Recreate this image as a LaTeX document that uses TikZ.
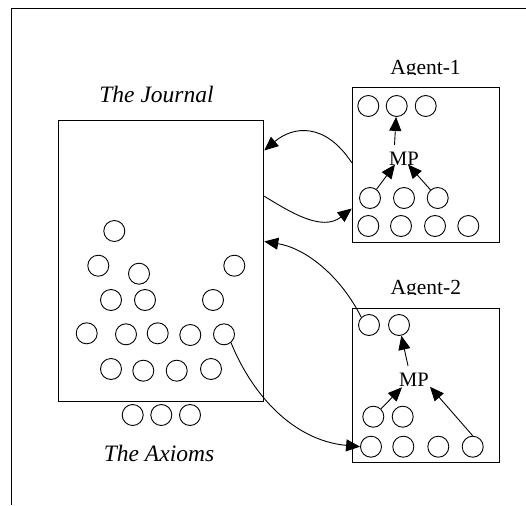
\documentclass[tikz,border=0pt]{standalone}
\usepackage{fontspec}
\setmainfont{Liberation Serif}
\usetikzlibrary{arrows.meta,calc}
\begin{document}
\begin{tikzpicture}[x=1pt,y=-1pt,
  dot/.style={circle,draw,line width=0.9pt,minimum size=21pt,inner sep=0pt},
  panel/.style={draw,line width=1.1pt,inner sep=0pt},
  arr/.style={line width=0.9pt,-{Triangle[length=14pt,width=12pt]}},
  lbl/.style={font=\fontsize{23.5}{26}\selectfont\itshape,anchor=base,inner sep=0pt},
  agentlbl/.style={font=\fontsize{21.5}{24}\selectfont,anchor=base,inner sep=0pt},
  mp/.style={font=\fontsize{20.5}{23}\selectfont,inner sep=0pt}]
\useasboundingbox (0,0) rectangle (526,505);

% page frame
\draw[line width=1.1pt] (11.7,505) -- (11.7,8.5) -- (526,8.5);

% boxes
\node[panel,minimum width=205pt,minimum height=280.7pt] (journal) at (161.2,260.7) {};
\node[panel,minimum width=147.4pt,minimum height=154.3pt] (agent1) at (426,164.9) {};
\node[panel,minimum width=147.4pt,minimum height=154pt] (agent2) at (426,385.3) {};

% titles
\node[lbl] (jlabel) at (156.5,103) {The Journal};
\node[lbl] (xlabel) at (159,461.5) {The Axioms};
\begin{scope}
  \clip (360,40) rectangle (490,75);
  \node[agentlbl] (a1label) at (425.5,74.3) {Agent-1};
\end{scope}
\begin{scope}
  \clip (360,260) rectangle (490,294.8);
  \node[agentlbl] (a2label) at (425.8,294) {Agent-2};
\end{scope}

% formulas in the journal
\foreach \n/\p in {j1/{(114.3,231)},j2/{(98.3,265.7)},j3/{(139,273.7)},j4/{(234.3,265.7)},
  j5/{(111,300)},j6/{(145,300)},j7/{(213,300)},
  j8/{(86.7,333.3)},j9/{(126,334.3)},j10/{(157.7,333.3)},j11/{(190.3,335)},j12/{(224,334.3)},
  j13/{(111,369)},j14/{(143.3,370.7)},j15/{(176.7,370.7)},j16/{(211,369)},
  x1/{(132.7,415)},x2/{(161.3,415)},x3/{(190,415)}}
  \node[dot] (\n) at \p {};

% agent 1
\foreach \n/\p in {a1t1/{(368.3,106)},a1t2/{(396.7,106)},a1t3/{(425.7,106)},
  a1m1/{(370,198)},a1m2/{(404,198)},a1m3/{(437.7,198)},
  a1b1/{(368.3,226)},a1b2/{(401,226)},a1b3/{(435,226)},a1b4/{(468.3,226)}}
  \node[dot] (\n) at \p {};
\node[mp] (mp1) at (404,158.5) {MP};
\draw[arr] ($(mp1)+(-9.5,-13.5)$) -- (a1t2);
\draw[arr] (a1m1) -- ($(mp1)+(-9,6)$);
\draw[arr] (a1m3) -- ($(mp1)+(4,6)$);

% agent 2
\foreach \n/\p in {a2t1/{(369,325)},a2t2/{(399,325)},
  a2m1/{(373.3,416.7)},a2m2/{(402.7,416.7)},
  a2b1/{(371,446.7)},a2b2/{(403.3,446.7)},a2b3/{(438.3,446.7)},a2b4/{(472.7,446.7)}}
  \node[dot] (\n) at \p {};
\node[mp] (mp2) at (414,379.3) {MP};
\draw[arr] ($(mp2)+(-6,-13.5)$) -- (a2t2);
\draw[arr] (a2m1) -- ($(mp2)+(-12,8)$);
\draw[arr] (a2b4.north) -- ($(mp2)+(16,7.5)$);

% exchanges between the journal and the agents
\draw[arr] ($(agent1.north west)+(0,75.5)$) .. controls (325,122) and (293,126) .. ($(journal.north east)+(0,30.7)$);
\draw[arr] ($(journal.north east)+(0,76.4)$) .. controls (290,212) and (322,232) .. ($(agent1.north west)+(0,121.3)$);
\draw[arr] (a2t1.135) .. controls (340,275) and (305,248) .. ($(journal.north east)+(0,121.7)$);
\draw[arr] (j12.-50) .. controls (250,390) and (290,440) .. (a2b1.west);
\end{tikzpicture}
\end{document}
